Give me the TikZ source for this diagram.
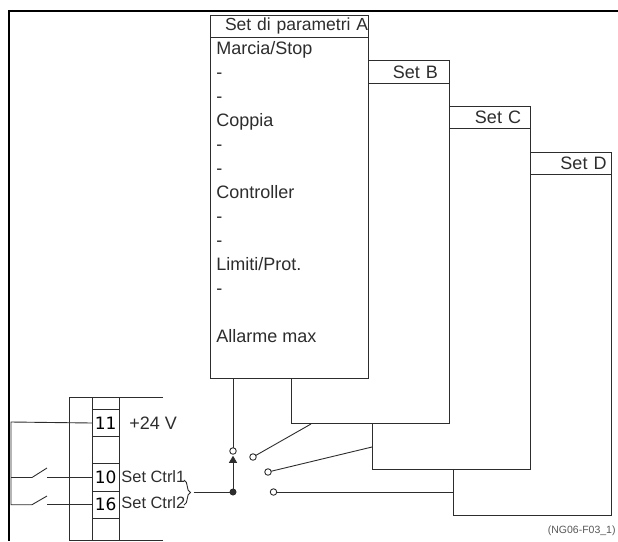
\documentclass[tikz,border=0pt]{standalone}
\usepackage{fontspec}
\setmainfont{Liberation Sans}
\newfontfamily\termfont{DejaVu Sans}
\usepackage{tikz}
\usetikzlibrary{arrows.meta,decorations.pathreplacing,positioning}
\definecolor{wire}{RGB}{45,45,45}

\begin{document}
\begin{tikzpicture}[x=1pt,y=-1pt,>=Latex,line width=0.9pt,
    setbox/.style={draw=wire,fill=white,minimum width=158pt,minimum height=363pt,anchor=north west,inner sep=0pt,outer sep=0pt},
    sethead/.style={draw=wire,anchor=north,minimum height=22.7pt,text width=158pt,inner xsep=0pt,inner ysep=0pt,outer sep=0pt,align=right,text=wire,font=\fontsize{18}{18}\selectfont},
    termbox/.style={draw=wire,minimum width=27.5pt,minimum height=27.2pt,inner sep=0pt,outer sep=0pt,font=\termfont\fontsize{17}{17}\selectfont},
    plain/.style={inner sep=0pt,text=wire,font=\fontsize{18}{18}\selectfont},
    small/.style={inner sep=0pt,text=wire,font=\fontsize{16.4}{16.4}\selectfont},
    contact/.style={circle,draw=wire,fill=white,inner sep=0pt,minimum size=6.5pt,outer sep=0pt},
    junction/.style={circle,fill=wire,inner sep=0pt,minimum size=7pt,outer sep=0pt}]
  \useasboundingbox (0,0) rectangle (618,541);

  % outer frame
  \draw[line width=2.5pt,black] (618,11) -- (9,11) -- (9,541);

  % parameter sets, last one first
  \node[setbox] (setD) at (453.5,152) {};
  \node[sethead] (headD) at (setD.north) {Set D\hspace*{5pt}};
  \node[setbox] (setC) at (372,106) {};
  \node[sethead] (headC) at (setC.north) {Set C\hspace*{9pt}};
  \node[setbox] (setB) at (291,60.5) {};
  \node[sethead] (headB) at (setB.north) {Set B\hspace*{11pt}};
  \node[setbox] (setA) at (210,15) {};
  \node[sethead,font=\fontsize{17.5}{17.5}\selectfont] (headA) at (setA.north) {Set di parametri A};
  \node[plain,align=left,font=\fontsize{18}{24}\selectfont,below=3.5pt of headA.south west,anchor=north west,xshift=6pt] (parlist)
    {Marcia/Stop\\-\\-\\Coppia\\-\\-\\Controller\\-\\-\\Limiti/Prot.\\-\\~\\Allarme max};

  % terminal strip
  \draw[wire] (163,397) -- (69,397) -- (69,540) -- (163,540);
  \draw[wire] (92,397) -- (92,540);
  \draw[wire] (119.5,397) -- (119.5,540);
  \node[termbox] (t11) at (105.75,423) {11};
  \node[termbox] (t10) at (105.75,477.5) {10};
  \node[termbox] (t16) at (105.75,504.7) {16};
  \node[plain,anchor=west] (v24) at (129,423) {+24 V};
  \node[small,anchor=west] (ctrlA) at (121,477) {Set Ctrl1};
  \node[small,anchor=west] (ctrlB) at (121,503) {Set Ctrl2};

  % switches on the left
  \coordinate (railT) at (11,422);
  \coordinate (railA) at (11,477.5);
  \coordinate (railB) at (11,504.7);
  \coordinate (swAl) at (32,477.5);
  \coordinate (swAh) at (47,468);
  \coordinate (swAr) at (47,477.5);
  \coordinate (swBl) at (32,504.7);
  \coordinate (swBh) at (47,496);
  \coordinate (swBr) at (47,504.7);
  \draw[wire] (t11.west) -- (railT) -- (railB) -- (swBl) -- (swBh);
  \draw[wire] (railA) -- (swAl) -- (swAh);
  \draw[wire] (swAr) -- (t10.west);
  \draw[wire] (swBr) -- (t16.west);

  % selector
  \coordinate (tapA) at (233,378);
  \coordinate (tapB) at (311,424);
  \coordinate (tapC) at (372,447);
  \coordinate (tapD) at (453.5,492);
  \coordinate (braceT) at (184,480);
  \coordinate (braceB) at (184,505);
  \coordinate (braceM) at (193.5,492);
  \node[junction] (sel) at (233,492) {};
  \node[contact] (conA) at (233,451) {};
  \node[contact] (conB) at (253,457) {};
  \node[contact] (conC) at (268,472) {};
  \node[contact] (conD) at (273.5,492) {};
  \draw[wire,decorate,decoration={brace,amplitude=6.5pt}] (braceT) -- (braceB);
  \draw[wire] (braceM) -- (sel);
  \draw[wire] (tapA) -- (conA);
  \draw[wire,-{Triangle[width=8pt,length=7pt]},shorten >=1.5pt] (sel) -- (conA);
  \draw[wire] (conB) -- (tapB);
  \draw[wire] (conC) -- (tapC);
  \draw[wire] (conD) -- (tapD);

  \node[inner sep=0pt,anchor=east,text=wire!80,font=\fontsize{10.5}{10.5}\selectfont] (figref) at (616,531) {(NG06-F03\_1)};
\end{tikzpicture}
\end{document}
